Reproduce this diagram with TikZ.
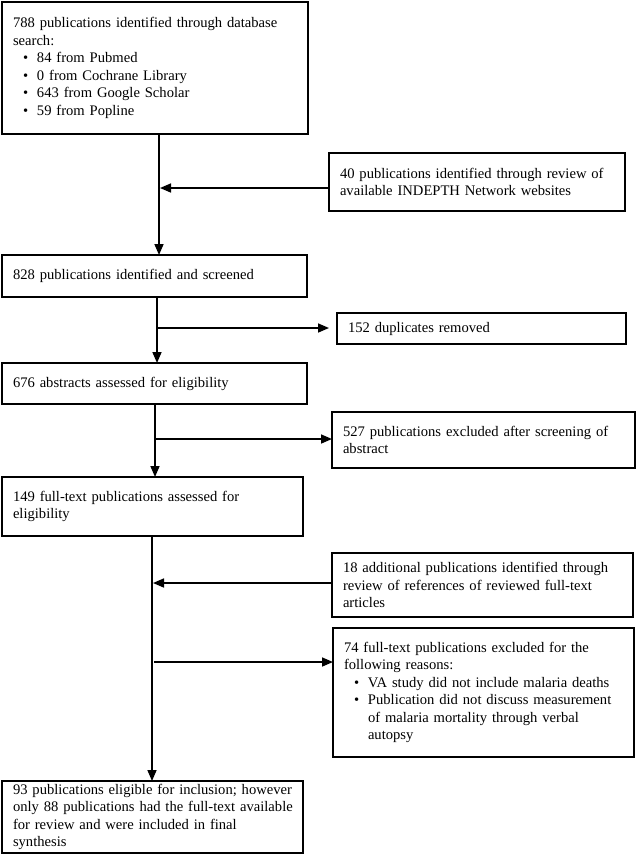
\documentclass[tikz,border=0pt]{standalone}
\usepackage{fontspec}
\setmainfont{Liberation Serif}
\usetikzlibrary{arrows.meta}
\newcommand{\bul}{\hspace*{10pt}\makebox[14pt][l]{\textbullet}}
\newcommand{\bulind}{\hspace*{24pt}}
\begin{document}
\begin{tikzpicture}[x=1pt,y=-1pt,
  box/.style={draw, line width=1.2pt, anchor=north west, align=left,
    inner xsep=11pt, inner ysep=0pt, outer sep=0pt,
    font=\fontsize{14.6}{17.5}\selectfont},
  arr/.style={line width=1.6pt, -{Triangle[length=11pt,width=9pt]}}]
\useasboundingbox[fill=white] (0,0) rectangle (640,863);

\node[box, text width=284pt, minimum height=132pt] (b1) at (2,2)
  {\mbox{788 publications identified through database}\\ search:\\
   \bul 84 from Pubmed\\ \bul 0 from Cochrane Library\\
   \bul 643 from Google Scholar\\ \bul 59 from Popline};
\node[box, text width=274pt, minimum height=58pt] (b40) at (329,153)
  {\mbox{40 publications identified through review of}\\ available INDEPTH Network websites};
\node[box, text width=283pt, minimum height=42pt] (b2) at (2,255)
  {828 publications identified and screened};
\node[box, text width=267pt, minimum height=31pt] (b152) at (337,313)
  {152 duplicates removed};
\node[box, text width=283pt, minimum height=41pt] (b676) at (2,363)
  {676 abstracts assessed for eligibility};
\node[box, text width=281pt, minimum height=56pt] (b527) at (332,412)
  {\mbox{527 publications excluded after screening of}\\ abstract};
\node[box, text width=279pt, minimum height=59pt] (b149) at (2,477)
  {149 full-text publications assessed for\\ eligibility};
\node[box, text width=279pt, minimum height=64pt] (b18) at (332,553)
  {\mbox{18 additional publications identified through}\\ \mbox{review of references of reviewed full-text}\\ articles};
\node[box, text width=279pt, minimum height=129pt] (b74) at (333,628)
  {\mbox{74 full-text publications excluded for the}\\ following reasons:\\
   \mbox{\bul VA study did not include malaria deaths}\\
   \mbox{\bul Publication did not discuss measurement}\\
   \bulind of malaria mortality through verbal\\
   \bulind autopsy};
\node[box, text width=279pt, minimum height=72pt] (b93) at (2,781)
  {\mbox{93 publications eligible for inclusion; however}\\ \mbox{only 88 publications had the full-text available}\\ for review and were included in final\\ synthesis};

\coordinate (t1) at (159,0);
\draw[arr] (b1.south -| t1) -- (b2.north -| t1);
\coordinate (j1) at (160,188);
\draw[arr] (b40.west |- j1) -- (j1);

\coordinate (t2) at (157,0);
\draw[arr] (b2.south -| t2) -- (b676.north -| t2);
\coordinate (j2) at (157,328);
\draw[arr, shorten >=8pt] (j2) -- (b152.west |- j2);

\coordinate (t3) at (155,0);
\draw[arr] (b676.south -| t3) -- (b149.north -| t3);
\coordinate (j3) at (155,439);
\draw[arr] (j3) -- (b527.west |- j3);

\coordinate (t4) at (152,0);
\draw[arr] (b149.south -| t4) -- (b93.north -| t4);
\coordinate (j4) at (153,583);
\draw[arr] (b18.west |- j4) -- (j4);
\coordinate (j5) at (154,662);
\draw[arr] (j5) -- (b74.west |- j5);
\end{tikzpicture}
\end{document}
